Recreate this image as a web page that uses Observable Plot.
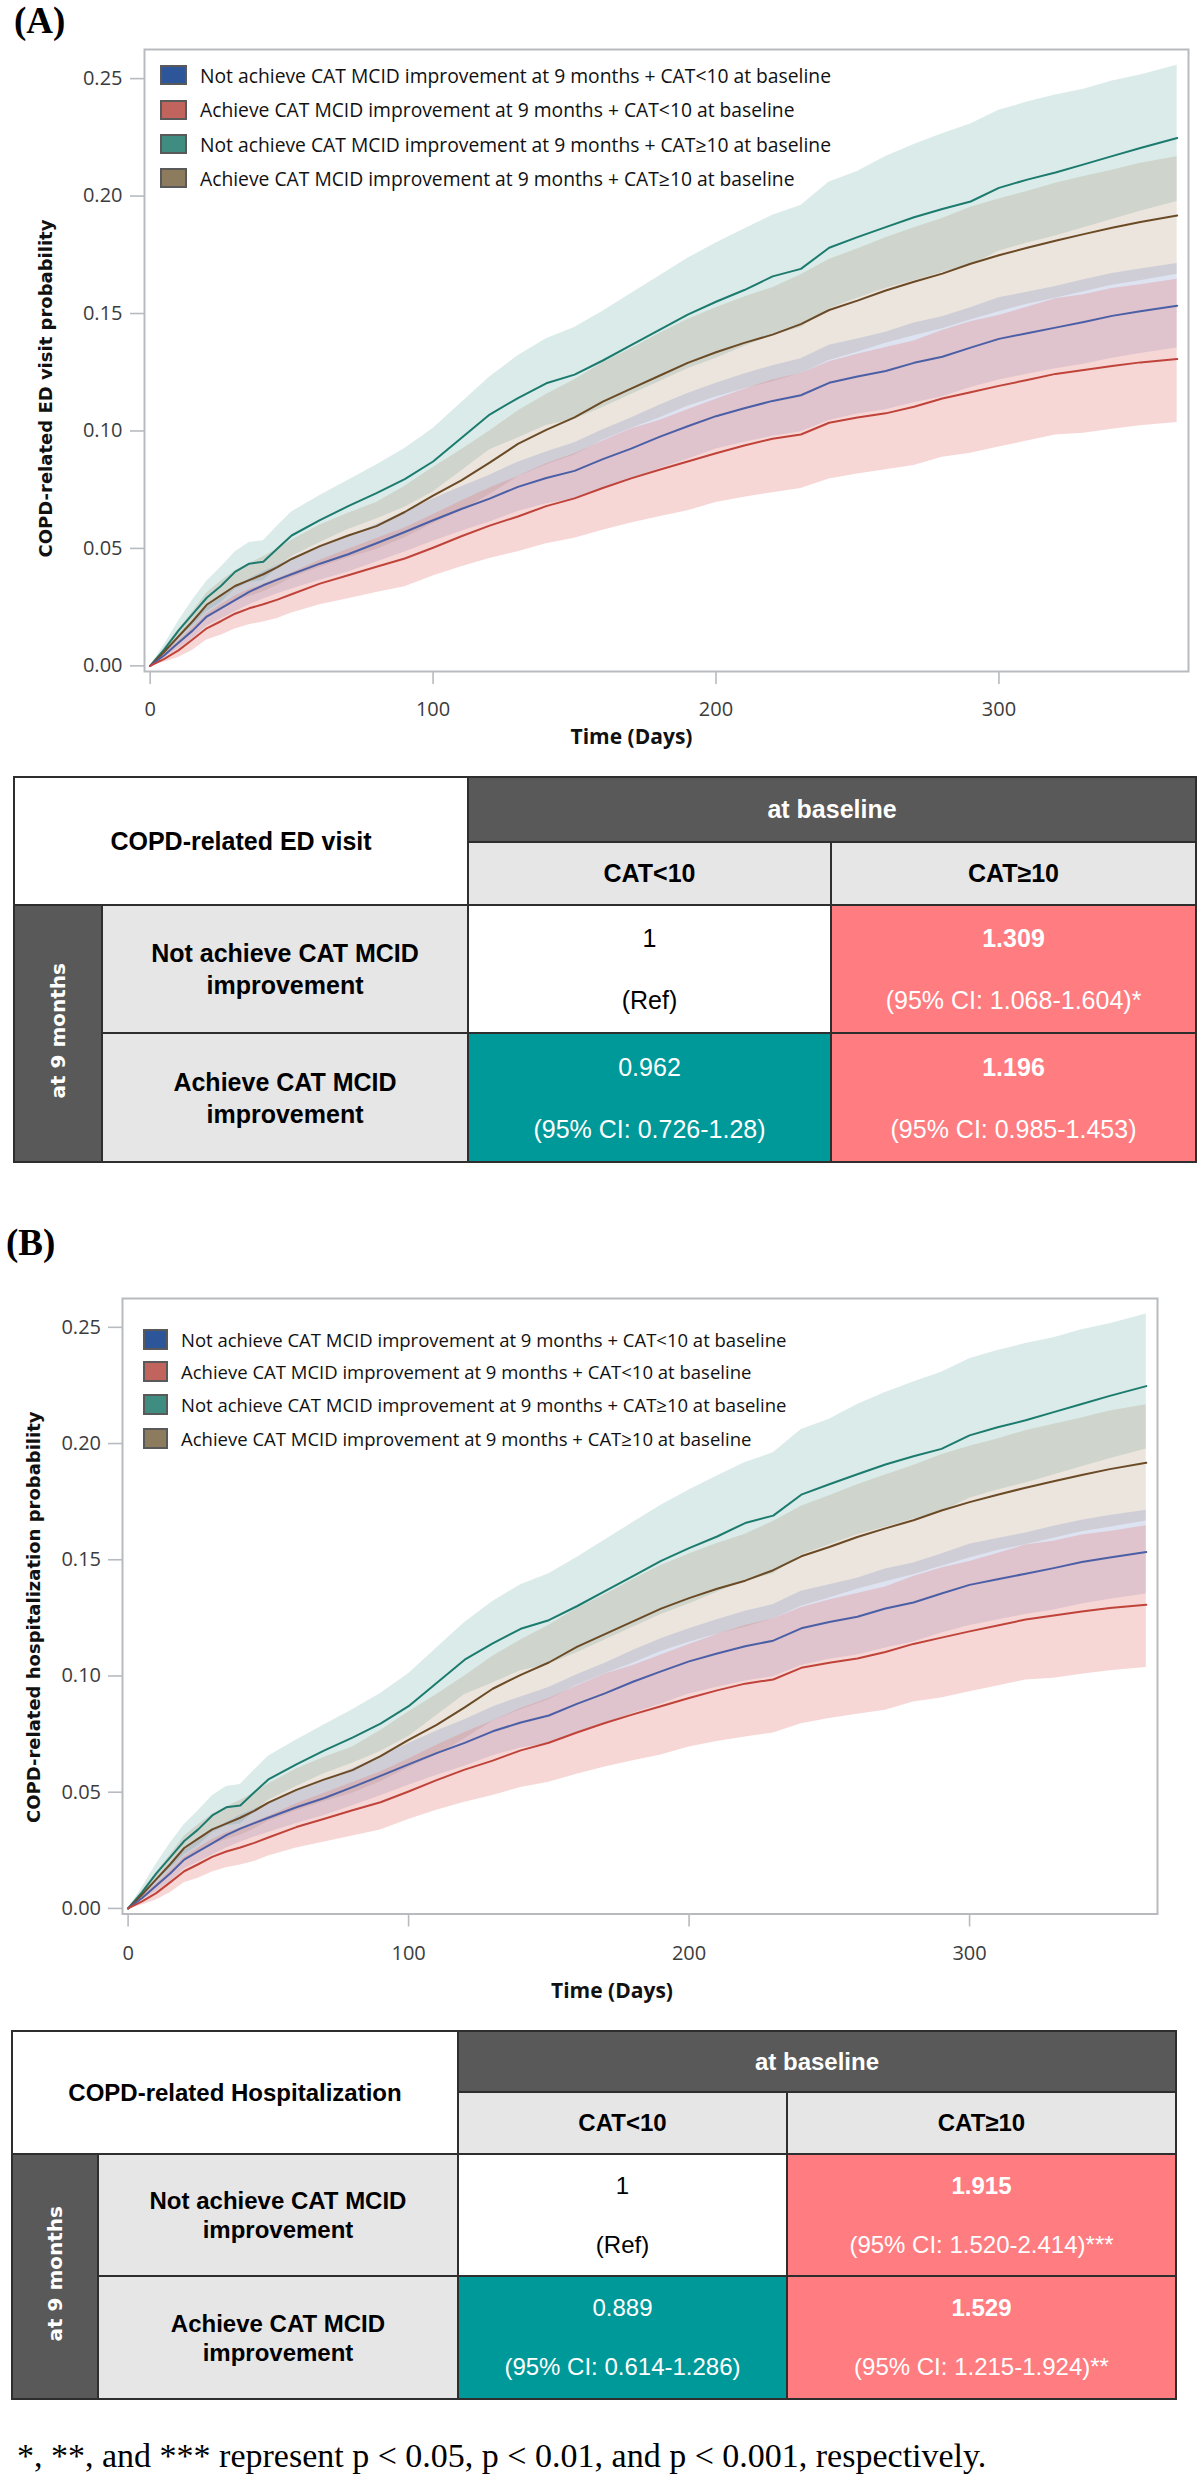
<!DOCTYPE html>
<html>
<head>
<meta charset="utf-8">
<script src="https://cdn.jsdelivr.net/npm/d3@7"></script>
<script src="https://cdn.jsdelivr.net/npm/@observablehq/plot@0.6"></script>
<style>
  body { margin: 0; background: #fff; }
  #page { position: relative; width: 1198px; height: 2480px; overflow: hidden; background: #fff; }
  .chart { position: absolute; left: 0; }
  .panel-label { position: absolute; font-family: "Liberation Serif", "Times New Roman", serif; font-weight: bold; font-size: 37px; line-height: 37px; color: #000; }
  .legend { position: absolute; left: 0; top: 0; font-family: "Open Sans", sans-serif; color: #111; }
  .legend .row { position: absolute; display: flex; align-items: center; white-space: nowrap; }
  .legend .sw { box-sizing: border-box; border: 2px solid #595959; flex: none; }
  table.hr { position: absolute; border-collapse: collapse; table-layout: fixed; font-family: "Liberation Sans", Arial, sans-serif; color: #000; }
  table.hr td { border: 2px solid #2e2e2e; text-align: center; vertical-align: middle; padding: 0; }
  table.hr td.corner { background: #fff; font-weight: bold; }
  table.hr td.dark { background: #595959; color: #fff; font-weight: bold; }
  table.hr td.light { background: #e7e6e6; font-weight: bold; }
  table.hr td.vert span { display: inline-block; writing-mode: vertical-rl; transform: rotate(180deg); font-family: "DejaVu Sans", Verdana, sans-serif; font-weight: bold; font-size: 20px; color: #fff; }
  table.hr td.white { background: #fff; color: #000; }
  table.hr td.salmon { background: #ff7c80; color: #fff; }
  table.hr td.salmon .v { font-weight: bold; }
  table.hr td.teal { background: #009999; color: #fff; }
  .footnote { position: absolute; left: 17px; font-family: "Liberation Serif", "Times New Roman", serif; font-size: 34px; line-height: 34px; color: #000; white-space: nowrap; }
</style>
</head>
<body>
<div id="page"></div>
<script>
// ---------------- data ----------------
const seriesNames = [
  "Not achieve CAT MCID improvement at 9 months + CAT<10 at baseline",
  "Achieve CAT MCID improvement at 9 months + CAT<10 at baseline",
  "Not achieve CAT MCID improvement at 9 months + CAT≥10 at baseline",
  "Achieve CAT MCID improvement at 9 months + CAT≥10 at baseline"
];
const days = [0,5,10,15,20,25,30,35,40,45,50,60,70,80,90,100,110,120,130,140,150,160,170,180,190,200,210,220,230,240,250,260,270,280,290,300,310,320,330,340,350,363];

// Not achieve + CAT<10 (blue)
const notLt10Est = [0,0.0045,0.0098,0.015,0.021,0.0245,0.028,0.0315,0.0343,0.0367,0.039,0.0435,0.0475,0.0522,0.057,0.062,0.0668,0.0712,0.0762,0.080,0.083,0.088,0.0925,0.0975,0.102,0.1063,0.1097,0.1128,0.1152,0.1205,0.1232,0.1255,0.129,0.1316,0.1355,0.1392,0.1416,0.144,0.1464,0.149,0.151,0.1533];
const notLt10Lo = [0,0.0035,0.0073,0.0115,0.017,0.020,0.023,0.026,0.0285,0.0307,0.0327,0.0365,0.040,0.0442,0.0485,0.053,0.0573,0.0612,0.0657,0.069,0.071,0.0755,0.0795,0.084,0.088,0.0923,0.0952,0.0978,0.0997,0.1045,0.1072,0.109,0.112,0.1146,0.1185,0.1217,0.1241,0.1265,0.1284,0.131,0.133,0.1353];
const notLt10Hi = [0,0.0055,0.0123,0.0185,0.025,0.029,0.033,0.037,0.0401,0.0427,0.0453,0.0505,0.055,0.0602,0.0655,0.071,0.0763,0.0812,0.0867,0.091,0.095,0.1005,0.1055,0.111,0.116,0.1203,0.1242,0.1278,0.1307,0.1365,0.1392,0.142,0.146,0.1486,0.1525,0.1567,0.1591,0.1615,0.1644,0.167,0.169,0.1713];

// Achieve + CAT<10 (red)
const achLt10Est = [0,0.003,0.0066,0.0112,0.016,0.019,0.0222,0.0245,0.0262,0.0282,0.0305,0.035,0.0386,0.0422,0.0457,0.0503,0.0552,0.0597,0.0636,0.068,0.0713,0.0757,0.0798,0.0835,0.087,0.0905,0.0938,0.0967,0.0985,0.1035,0.1057,0.1075,0.1103,0.1138,0.1165,0.1192,0.1217,0.1243,0.126,0.1277,0.1292,0.1306];
const achLt10Lo = [0,0.0015,0.0036,0.0067,0.011,0.013,0.0157,0.0175,0.0187,0.0202,0.0225,0.026,0.0286,0.0312,0.0337,0.0383,0.0422,0.0457,0.0486,0.052,0.0543,0.0577,0.0608,0.0635,0.066,0.0695,0.0718,0.0737,0.0755,0.0795,0.0817,0.0835,0.0853,0.0888,0.0905,0.0932,0.0957,0.0983,0.099,0.1007,0.1022,0.1036];
const achLt10Hi = [0,0.005,0.0106,0.0162,0.022,0.026,0.0297,0.0325,0.0347,0.0372,0.0395,0.045,0.0496,0.0542,0.0587,0.0643,0.0702,0.0757,0.0806,0.086,0.0903,0.0957,0.1008,0.1045,0.109,0.1135,0.1178,0.1217,0.1245,0.1295,0.1327,0.1355,0.1383,0.1428,0.1465,0.1492,0.1527,0.1563,0.158,0.1607,0.1622,0.1646];

// Not achieve + CAT>=10 (teal)
const notGe10Est = [0,0.007,0.015,0.022,0.029,0.034,0.040,0.0435,0.0443,0.050,0.0555,0.062,0.068,0.0735,0.0795,0.087,0.097,0.107,0.114,0.1203,0.124,0.130,0.1365,0.143,0.1495,0.155,0.160,0.1658,0.169,0.178,0.1825,0.1868,0.191,0.1945,0.1977,0.2035,0.207,0.210,0.2135,0.217,0.2205,0.2247];
const notGe10Lo = [0,0.005,0.0115,0.017,0.023,0.027,0.0325,0.0355,0.0363,0.0415,0.0465,0.0525,0.058,0.0625,0.0675,0.074,0.083,0.092,0.097,0.1023,0.105,0.110,0.1155,0.121,0.1265,0.131,0.136,0.1408,0.144,0.152,0.1565,0.1608,0.164,0.1675,0.1707,0.1765,0.180,0.183,0.1865,0.190,0.1935,0.1977];
const notGe10Hi = [0,0.009,0.019,0.028,0.036,0.042,0.0485,0.0525,0.0533,0.0595,0.0655,0.0725,0.079,0.0855,0.0925,0.101,0.112,0.123,0.132,0.1393,0.144,0.151,0.1585,0.166,0.1735,0.180,0.186,0.1918,0.196,0.206,0.2105,0.2168,0.222,0.2265,0.2307,0.2365,0.240,0.243,0.2455,0.249,0.2515,0.2557];

// Achieve + CAT>=10 (brown)
const achGe10Est = [0,0.006,0.0125,0.019,0.026,0.030,0.034,0.0365,0.039,0.042,0.0455,0.051,0.0555,0.0595,0.0655,0.0725,0.079,0.0865,0.0945,0.1005,0.1058,0.1125,0.118,0.1235,0.129,0.1335,0.1375,0.141,0.1455,0.1515,0.1555,0.1598,0.1635,0.167,0.1712,0.1748,0.178,0.181,0.1838,0.1865,0.189,0.1917];
const achGe10Lo = [0,0.0045,0.0095,0.015,0.021,0.024,0.0275,0.0295,0.0315,0.0342,0.0375,0.042,0.046,0.0495,0.0545,0.0605,0.066,0.073,0.0805,0.0855,0.0898,0.096,0.101,0.1055,0.1105,0.1145,0.118,0.121,0.1245,0.130,0.1335,0.1373,0.1405,0.1435,0.1472,0.1508,0.154,0.1565,0.1593,0.162,0.164,0.1667];
const achGe10Hi = [0,0.0075,0.0155,0.023,0.031,0.036,0.0405,0.0435,0.0465,0.0498,0.0535,0.060,0.065,0.0695,0.0765,0.0845,0.092,0.100,0.1085,0.1155,0.1218,0.129,0.135,0.1415,0.1475,0.1525,0.157,0.161,0.1665,0.173,0.1775,0.1823,0.1865,0.1905,0.1952,0.1988,0.202,0.2055,0.2083,0.211,0.214,0.2167];

const xTicks = [0, 100, 200, 300];
const yTicks = [0, 0.05, 0.10, 0.15, 0.20, 0.25];
const xLabel = "Time (Days)";
const yLabelA = "COPD-related ED visit probability";
const yLabelB = "COPD-related hospitalization probability";

// tables
const colGroupLabel = "at baseline";
const colLabels = ["CAT<10", "CAT≥10"];
const rowGroupLabel = "at 9 months";
const rowLabels = [["Not achieve CAT MCID", "improvement"], ["Achieve CAT MCID", "improvement"]];
const edTitle = "COPD-related ED visit";
const edValues = [["1", "1.309"], ["0.962", "1.196"]];
const edCI = [["(Ref)", "(95% CI: 1.068-1.604)*"], ["(95% CI: 0.726-1.28)", "(95% CI: 0.985-1.453)"]];
const hospTitle = "COPD-related Hospitalization";
const hospValues = [["1", "1.915"], ["0.889", "1.529"]];
const hospCI = [["(Ref)", "(95% CI: 1.520-2.414)***"], ["(95% CI: 0.614-1.286)", "(95% CI: 1.215-1.924)**"]];
const footnote = "*, **, and *** represent p < 0.05, p < 0.01, and p < 0.001, respectively.";

// ---------------- styles ----------------
const lineColors = ["#4b5fa6", "#c0433a", "#1c7b6e", "#6b4a26"];
const bandColors = ["#6b7fc4", "#e07c78", "#5fa89f", "#a88a66"];
const bandOpacity = [0.22, 0.3, 0.23, 0.22];
const swatchColors = ["#2d569a", "#c1645d", "#3f8c80", "#8d7b5e"];

const estArr = [notLt10Est, achLt10Est, notGe10Est, achGe10Est];
const loArr = [notLt10Lo, achLt10Lo, notGe10Lo, achGe10Lo];
const hiArr = [notLt10Hi, achLt10Hi, notGe10Hi, achGe10Hi];

const rows = [];
seriesNames.forEach((name, i) => days.forEach((d, j) => rows.push({ series: name, idx: i, day: d, est: estArr[i][j], lo: loArr[i][j], hi: hiArr[i][j] })));

const page = document.getElementById("page");

function drawChart(c) {
  const bandOrder = [2, 3, 0, 1];
  const lineOrder = [2, 3, 0, 1];
  const marks = [];
  bandOrder.forEach(i => marks.push(Plot.areaY(rows.filter(r => r.idx === i), { x: "day", y1: "lo", y2: "hi", fill: bandColors[i], fillOpacity: bandOpacity[i] })));
  lineOrder.forEach(i => marks.push(Plot.line(rows.filter(r => r.idx === i), { x: "day", y: "est", stroke: lineColors[i], strokeWidth: 2 })));
  marks.push(Plot.frame({ stroke: "#b7bbbf", strokeWidth: 2 }));
  marks.push(Plot.axisY({ ticks: yTicks, tickFormat: d3.format(".2f"), tickSize: 14, tickPadding: c.yPad, stroke: "#b7bbbf", strokeWidth: 1.6, fill: "#3c3c3c", label: null }));
  marks.push(Plot.axisX({ ticks: xTicks, tickFormat: d3.format("d"), tickSize: 13, tickPadding: c.xPad, stroke: "#b7bbbf", strokeWidth: 1.6, fill: "#3c3c3c", label: null }));
  marks.push(Plot.text([c.yLabel], { frameAnchor: "left", textAnchor: "middle", lineAnchor: "middle", dx: c.yLabelDx, dy: c.yLabelDy, rotate: -90, fontFamily: "DejaVu Sans", fontWeight: "bold", fontSize: 18, fill: "#111" }));
  marks.push(Plot.text([xLabel], { frameAnchor: "bottom", textAnchor: "middle", lineAnchor: "middle", dx: c.xLabelDx, dy: c.xLabelDy, fontFamily: "Open Sans", fontWeight: "bold", fontSize: 21, fill: "#111" }));
  const svg = Plot.plot({
    width: 1198, height: c.height,
    marginLeft: c.ml, marginRight: c.mr, marginTop: c.mt, marginBottom: c.mb,
    style: { fontFamily: "'Open Sans', sans-serif", fontSize: "20px", background: "transparent", overflow: "visible" },
    x: { domain: [-2, 367] },
    y: { domain: [-0.0024, 0.2624] },
    marks
  });
  svg.classList.add("chart");
  svg.style.top = c.top + "px";
  page.appendChild(svg);

  // legend
  const lg = document.createElement("div");
  lg.className = "legend";
  seriesNames.forEach((name, i) => {
    const r = document.createElement("div");
    r.className = "row";
    r.style.left = c.lgLeft + "px";
    r.style.top = (c.lgRows[i] - 15) + "px";
    r.style.height = "30px";
    r.style.fontSize = c.lgFont + "px";
    const sw = document.createElement("div");
    sw.className = "sw";
    sw.style.width = c.swW + "px";
    sw.style.height = c.swH + "px";
    sw.style.background = swatchColors[i];
    sw.style.marginRight = c.swGap + "px";
    const t = document.createElement("span");
    t.textContent = name;
    r.appendChild(sw); r.appendChild(t);
    lg.appendChild(r);
  });
  page.appendChild(lg);
}

function buildTable(c) {
  const t = document.createElement("table");
  t.className = "hr";
  t.style.left = c.left + "px";
  t.style.top = c.top + "px";
  t.style.width = c.colW.reduce((a, b) => a + b, 0) + "px";
  t.style.fontSize = c.fontSize + "px";
  const cg = document.createElement("colgroup");
  c.colW.forEach(w => { const col = document.createElement("col"); col.style.width = w + "px"; cg.appendChild(col); });
  t.appendChild(cg);
  const tb = document.createElement("tbody");
  t.appendChild(tb);
  let tr = tb.insertRow(); tr.style.height = c.rowH[0] + "px";
  let td = tr.insertCell(); td.colSpan = 2; td.rowSpan = 2; td.className = "corner"; td.textContent = c.title;
  td = tr.insertCell(); td.colSpan = 2; td.className = "dark"; td.textContent = colGroupLabel;
  tr = tb.insertRow(); tr.style.height = c.rowH[1] + "px";
  colLabels.forEach(l => { td = tr.insertCell(); td.className = "light"; td.textContent = l; });
  const cls = [["white", "salmon"], ["teal", "salmon"]];
  rowLabels.forEach((lab, i) => {
    tr = tb.insertRow(); tr.style.height = c.rowH[2 + i] + "px";
    if (i === 0) {
      td = tr.insertCell(); td.rowSpan = 2; td.className = "dark vert";
      const s = document.createElement("span"); s.textContent = rowGroupLabel; td.appendChild(s);
    }
    td = tr.insertCell(); td.className = "light";
    lab.forEach(s => { const d = document.createElement("div"); d.textContent = s; d.style.lineHeight = c.labLH + "px"; td.appendChild(d); });
    c.values[i].forEach((v, j) => {
      td = tr.insertCell(); td.className = cls[i][j];
      const a = document.createElement("div"); a.className = "v"; a.textContent = v; a.style.lineHeight = "28px";
      const b = document.createElement("div"); b.className = "ci"; b.textContent = c.cis[i][j]; b.style.lineHeight = "28px"; b.style.marginTop = c.gap + "px";
      td.appendChild(a); td.appendChild(b);
    });
  });
  page.appendChild(t);
}

function addText(cls, text, left, top) {
  const d = document.createElement("div");
  d.className = cls; d.textContent = text;
  d.style.left = left + "px"; d.style.top = top + "px";
  page.appendChild(d);
}

// Panel A
addText("panel-label", "(A)", 14, 2);
drawChart({
  top: 0, height: 760, ml: 144, mr: 10, mt: 49, mb: 89,
  yPad: 8, xPad: 17, yLabel: yLabelA, yLabelDx: -98, yLabelDy: 28, xLabelDx: -35, xLabelDy: 66,
  lgLeft: 160, lgRows: [75, 109.5, 144, 178], lgFont: 19.3, swW: 27, swH: 20, swGap: 13
});
buildTable({
  left: 13, top: 776, colW: [88, 366, 363, 365], rowH: [65, 63, 128, 129], fontSize: 25,
  title: edTitle, values: edValues, cis: edCI, labLH: 32, gap: 34
});

// Panel B
addText("panel-label", "(B)", 6, 1224);
drawChart({
  top: 1250, height: 770, ml: 122, mr: 41, mt: 48, mb: 106.5,
  yPad: 7.5, xPad: 19, yLabel: yLabelB, yLabelDx: -88, yLabelDy: 11, xLabelDx: -28, xLabelDy: 77,
  lgLeft: 143, lgRows: [1339, 1371.6, 1404.4, 1438], lgFont: 18.5, swW: 25, swH: 21, swGap: 13
});
buildTable({
  left: 11, top: 2030, colW: [86, 360, 329, 389], rowH: [61, 62, 122, 123], fontSize: 24,
  title: hospTitle, values: hospValues, cis: hospCI, labLH: 29, gap: 31
});

addText("footnote", footnote, 17, 2439);
</script>
</body>
</html>
